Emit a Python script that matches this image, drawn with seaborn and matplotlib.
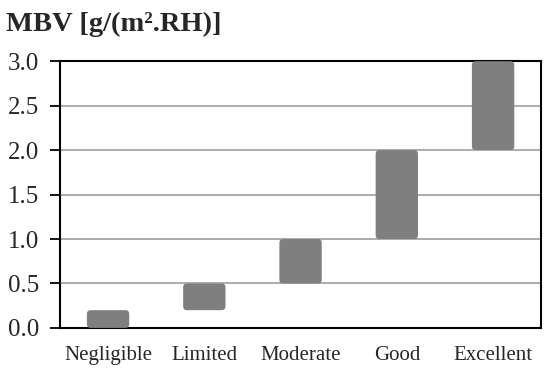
import pandas as pd
import matplotlib.pyplot as plt
import seaborn as sns
from matplotlib.patches import FancyBboxPatch

# MBV classes (Nordtest) and their ranges
classes = ["Negligible", "Limited", "Moderate", "Good", "Excellent"]
mbv_low = [0.0, 0.2, 0.5, 1.0, 2.0]
mbv_high = [0.2, 0.5, 1.0, 2.0, 3.0]
y_ticks = [0.0, 0.5, 1.0, 1.5, 2.0, 2.5, 3.0]

df = pd.DataFrame({"Class": classes, "Low": mbv_low, "High": mbv_high})
df["Span"] = df["High"] - df["Low"]

sns.set_style("white")
plt.rcParams["font.family"] = ["Liberation Serif", "DejaVu Serif"]

fig = plt.figure(figsize=(5.5, 3.8), dpi=100)
ax = fig.add_axes([0.109, 0.137, 0.875, 0.702])

sns.barplot(data=df, x="Class", y="Span", order=classes, bottom=df["Low"].values,
            color="#7f7f7f", saturation=1, width=0.44, errorbar=None, ax=ax, zorder=3)

# swap plain bars for slightly rounded ones
for bar in list(ax.patches):
    x, y = bar.get_x(), bar.get_y()
    w, h = bar.get_width(), bar.get_height()
    rb = FancyBboxPatch((x, y), w, h, boxstyle="round,pad=0,rounding_size=0.04",
                        mutation_aspect=1.08, facecolor="#7f7f7f", edgecolor="none",
                        zorder=3, clip_on=False)
    bar.remove()
    ax.add_patch(rb)

ax.set_xlim(-0.5, len(classes) - 0.5)
ax.set_ylim(0, 3.0)
ax.set_yticks(y_ticks)
ax.set_yticklabels([f"{v:.1f}" for v in y_ticks], fontsize=18)
ax.yaxis.grid(True, color="#a6a6a6", linewidth=1.3, zorder=1)
ax.set_axisbelow(True)

ax.set_xticks(range(len(classes)))
ax.set_xticklabels(classes, fontsize=15)
ax.set_xticks([i - 0.5 for i in range(len(classes) + 1)], minor=True)
ax.tick_params(axis="x", which="major", length=0, pad=13)
ax.tick_params(axis="x", which="minor", length=7, width=1.3, color="black", direction="out")
ax.tick_params(axis="y", length=7, width=1.3, color="black", direction="out", left=True, pad=8)

for sp in ax.spines.values():
    sp.set_visible(True)
    sp.set_color("black")
    sp.set_linewidth(1.5)

ax.set_xlabel("")
ax.set_ylabel("")
fig.text(0.01, 0.937, "MBV [g/(m².RH)]", fontsize=20.5, fontweight="bold", va="center", ha="left")

fig.savefig("out.png", dpi=100)
